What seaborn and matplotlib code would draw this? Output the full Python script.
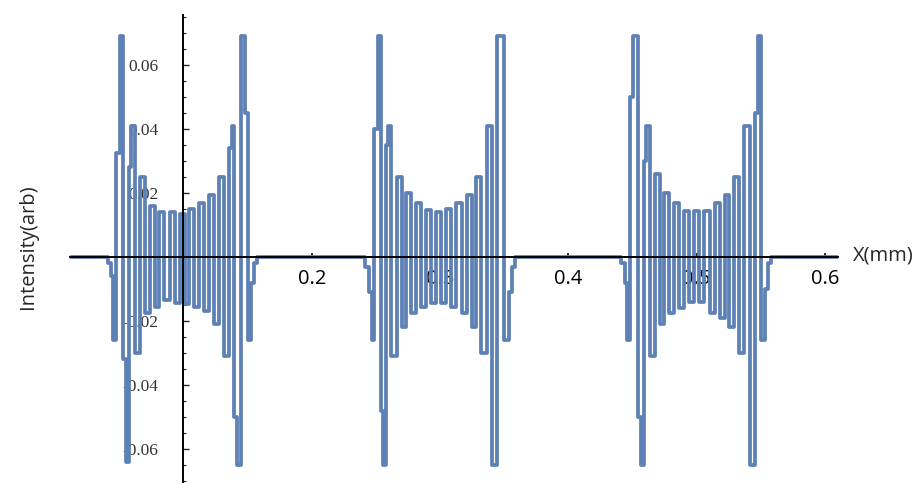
import numpy as np
import pandas as pd
import matplotlib
matplotlib.use("Agg")
import matplotlib.pyplot as plt
import seaborn as sns
from matplotlib.ticker import FixedLocator

# ---- data (extrema of the oscillating intensity) ----
g1_x = [0.0423, 0.0441, 0.0464, 0.0490, 0.0516, 0.0537, 0.0563, 0.0581, 0.0605,
        0.0641, 0.0680, 0.0714, 0.0758, 0.0792, 0.0833, 0.0870, 0.0914, 0.0948,
        0.0992, 0.1026, 0.1064, 0.1103, 0.1142, 0.1181, 0.1220, 0.1259, 0.1301,
        0.1337, 0.1368, 0.1384, 0.1410, 0.1428, 0.1472, 0.1488, 0.1514, 0.1540,
        0.1561]
g1_y = [-0.002, -0.006, -0.026, 0.0325, 0.069, -0.032, -0.064, 0.028, 0.041,
        -0.030, 0.025, -0.0175, 0.016, -0.0156, 0.014, -0.0135, 0.014, -0.0144,
        0.0135, -0.0146, 0.015, -0.0156, 0.017, -0.017, 0.0195, -0.021, 0.025,
        -0.031, 0.034, 0.041, -0.050, -0.065, 0.069, 0.045, -0.026, -0.008,
        -0.002]

g2_x = [0.2434, 0.2457, 0.2475, 0.2501, 0.2527, 0.2551, 0.2563, 0.2590, 0.2605,
        0.2636, 0.2688, 0.2714, 0.2758, 0.2792, 0.2836, 0.2870, 0.2909, 0.2948,
        0.2987, 0.3026, 0.3070, 0.3104, 0.3148, 0.3190, 0.3226, 0.3268, 0.3299,
        0.3343, 0.3384, 0.3421, 0.3473, 0.3525, 0.3551, 0.3572]
g2_y = [-0.003, -0.011, -0.026, 0.040, 0.069, -0.048, -0.065, 0.035, 0.041,
        -0.031, 0.025, -0.022, 0.020, -0.0175, 0.017, -0.0156, 0.0147, -0.0144,
        0.014, -0.0144, 0.015, -0.0156, 0.017, -0.0175, 0.0195, -0.022, 0.025,
        -0.030, 0.041, -0.065, 0.069, -0.026, -0.011, -0.003]

g3_x = [0.4429, 0.4450, 0.4465, 0.4491, 0.4523, 0.4564, 0.4575, 0.4600, 0.4616,
        0.4650, 0.4694, 0.4728, 0.4769, 0.4806, 0.4845, 0.4884, 0.4923, 0.4962,
        0.5001, 0.5040, 0.5079, 0.5125, 0.5157, 0.5208, 0.5234, 0.5273, 0.5312,
        0.5354, 0.5390, 0.5435, 0.5468, 0.5484, 0.5520, 0.5541, 0.5567]
g3_y = [-0.002, -0.008, -0.026, 0.050, 0.069, -0.050, -0.065, 0.030, 0.041,
        -0.031, 0.026, -0.021, 0.020, -0.0175, 0.017, -0.016, 0.0145, -0.014,
        0.0145, -0.014, 0.0145, -0.0175, 0.017, -0.019, 0.0195, -0.022, 0.025,
        -0.030, 0.041, -0.065, 0.045, 0.069, -0.026, -0.010, -0.002]

# flat zero baseline between the slit images
base_x = [0.0116, 0.0400, 0.1590, 0.2400, 0.3600, 0.4400, 0.5600, 0.6102]
base_y = [0.0, 0.0, 0.0, 0.0, 0.0, 0.0, 0.0, 0.0]

x_ticks = [0.2, 0.3, 0.4, 0.5, 0.6]
x_tick_labels = ["0.2", "0.3", "0.4", "0.5", "0.6"]
y_ticks = [-0.06, -0.04, -0.02, 0.02, 0.04, 0.06]
y_tick_labels = ["-0.06", "-0.04", "-0.02", "0.02", "0.04", "0.06"]

df = pd.DataFrame({"x": g1_x + g2_x + g3_x + base_x,
                   "y": g1_y + g2_y + g3_y + base_y}).sort_values("x")

sns.set_style("white")
plt.rcParams["axes.unicode_minus"] = False

fig = plt.figure(figsize=(9.19, 4.84), dpi=100)
ax = fig.add_axes([70 / 919, 1 - 482 / 484, 768 / 919, 467 / 484])

sns.lineplot(data=df, x="x", y="y", ax=ax, color="#5E81B5", linewidth=2.7,
             drawstyle="steps-mid", sort=True, estimator=None)

ax.set_xlim(0.0116, 0.6102)
ax.set_ylim(-0.0703, 0.0756)

for s in ["top", "right"]:
    ax.spines[s].set_visible(False)
ax.spines["left"].set_position(("data", 0.1))
ax.spines["bottom"].set_position(("data", 0.0))
for s in ["left", "bottom"]:
    ax.spines[s].set_color("black")
    ax.spines[s].set_linewidth(1.4)
    ax.spines[s].set_zorder(5)

ax.set_xticks(x_ticks)
ax.set_xticklabels(x_tick_labels, fontfamily="Open Sans", fontsize=14.5, color="black")
ax.set_yticks(y_ticks)
ax.set_yticklabels(y_tick_labels, fontfamily="Liberation Serif", fontsize=12.5, color="#333333")
ax.yaxis.set_minor_locator(FixedLocator([v / 1000 for v in range(-70, 76, 5) if v % 20 != 0]))

ax.tick_params(axis="x", which="major", direction="in", length=3, width=1.2,
               pad=9, colors="black", bottom=True)
ax.tick_params(axis="y", which="major", direction="in", length=4, width=1.0,
               pad=18, left=True)
ax.tick_params(axis="y", which="minor", direction="in", length=2.5, width=0.8, left=True)
for lab in ax.get_yticklabels():
    lab.set_color("#333333")
    lab.set_zorder(6)

ax.set_xlabel("")
ax.set_ylabel("")
ax.grid(False)

fig.text(853 / 919, 1 - 255 / 484, "X(mm)", fontfamily="Open Sans", fontsize=14.5,
         ha="left", va="center")
fig.text(28 / 919, 1 - 247 / 484, "Intensity(arb)", fontfamily="Open Sans", fontsize=14.5,
         rotation=90, ha="center", va="center")

fig.savefig("out.png", dpi=100, facecolor="white")
